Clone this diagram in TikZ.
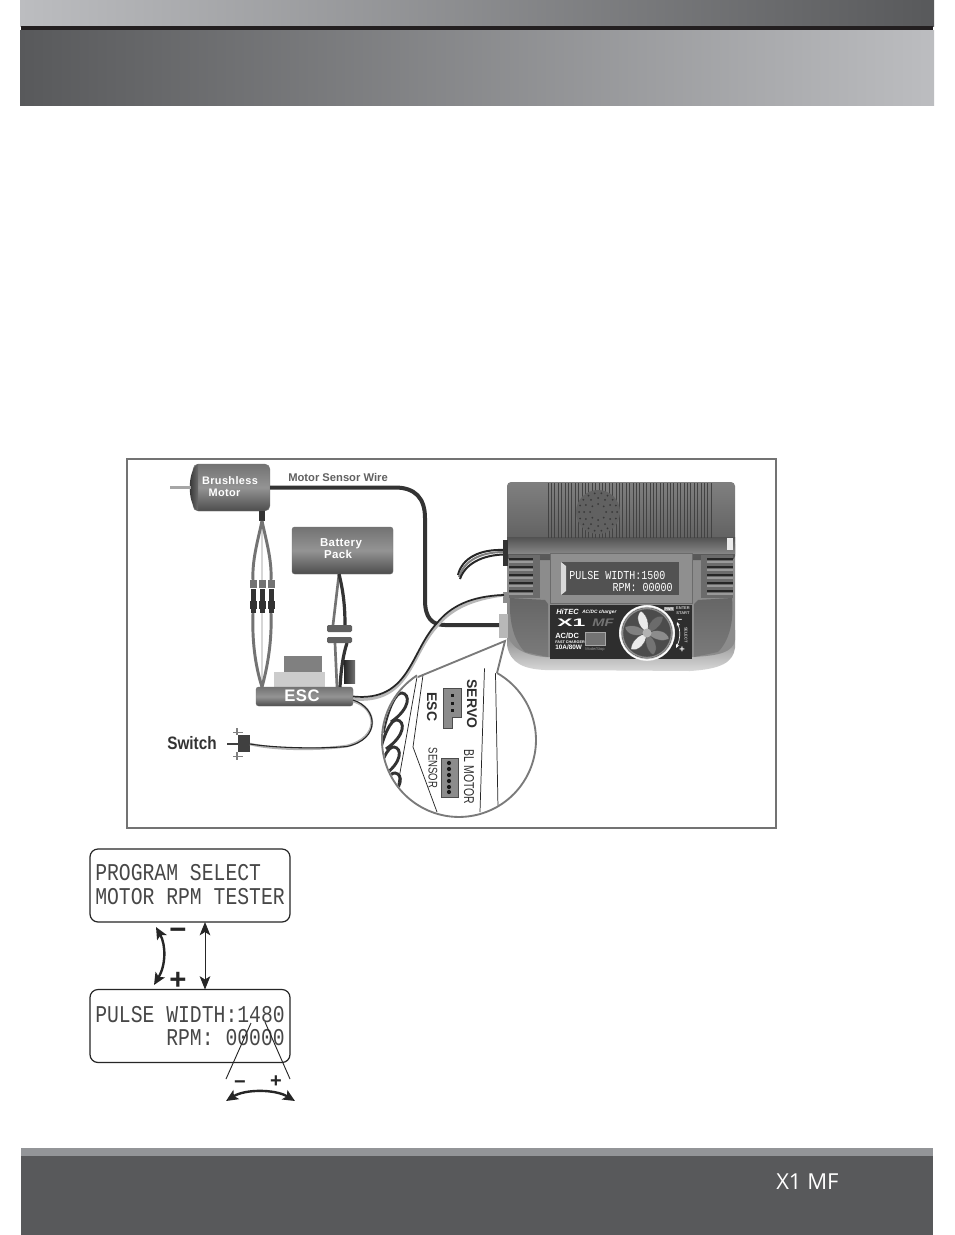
\documentclass[tikz,border=0pt]{standalone}
\usepackage{fontspec}
\setmainfont{Liberation Sans}
\newfontfamily\lcdfont{Liberation Mono}
\newfontfamily\footfont{Open Sans}
\newfontfamily\lblfont[LetterSpace=3.5]{Liberation Sans}
\usetikzlibrary{arrows.meta}
\definecolor{hdark}{HTML}{58595B}
\definecolor{hlight}{HTML}{BCBDC0}
\definecolor{hbar}{HTML}{231F20}
\definecolor{fstrip}{HTML}{939598}
\definecolor{frameg}{gray}{0.45}
\definecolor{wired}{gray}{0.2}
\definecolor{wirel}{gray}{0.84}
\newcommand{\lcdtext}[1]{\scalebox{1}[1.22]{#1}}
\tikzset{
 px/.style={x=0.75pt,y=-0.75pt},
 band/.style={inner sep=0,outer sep=0,anchor=north west},
 unit/.style={rounded corners=2pt,draw=black!55,line width=0.3pt,inner sep=0,outer sep=0,top color=black!55,bottom color=black!70,middle color=black!42},
 boxlabel/.style={text=white,font=\lblfont\bfseries\fontsize{8.2}{9}\selectfont,align=center,inner sep=0},
 lcdbox/.style={draw=black!85,line width=0.9pt,rounded corners=6pt,fill=white,minimum width=150pt,minimum height=54.75pt,inner sep=0,outer sep=0},
 lcdtxt/.style={font=\lcdfont\fontsize{14.8}{14.8}\selectfont,text=black!72,inner sep=0,anchor=west},
 minilcd/.style={font=\lcdfont\fontsize{7.5}{7.5}\selectfont,text=white,inner sep=0},
 zoomline/.style={draw=black!52,line width=1.4pt},
 fineline/.style={draw=black!85,line width=0.55pt},
 wirethin/.style={line width=1.3pt,draw=black!85},
 wirefat/.style={line width=3pt,draw=wired},
 phasegrey/.style={line width=2.2pt,draw=black!55},
 phaselight/.style={line width=2.2pt,draw=wirel},
 battgrey/.style={line width=2pt,draw=black!55},
 battdark/.style={line width=2.4pt,draw=wired},
 cable/.style={line width=1.5pt},
 tiptext/.style={text=black!82,rotate=-90,inner sep=0},
 dbl/.style={line width=0.7pt,draw=black!85,{Stealth[length=10pt,width=8pt,inset=2.5pt]}-{Stealth[length=10pt,width=8pt,inset=2.5pt]}},
 curvearrow/.style={line width=1.8pt,draw=black!85,{Stealth[length=9pt,width=8pt,inset=2pt]}-{Stealth[length=9pt,width=8pt,inset=2pt]}},
 sign/.style={inner sep=0,font=\bfseries\fontsize{22}{22}\selectfont,text=black!85},
 signsmall/.style={inner sep=0,font=\bfseries\fontsize{15}{15}\selectfont,text=black!85},
 tinytxt/.style={text=black!20,inner sep=0,font=\bfseries\fontsize{3}{3.4}\selectfont,align=center},
 bladestyle/.style={draw=black!70,line width=0.2pt}
}
\begin{document}
\begin{tikzpicture}[px]
\useasboundingbox (0,0) rectangle (954,1235);
\fill[white] (0,0) rectangle (954,1235);
% header
\node[band,minimum width=685.5pt,minimum height=19.5pt,left color=hlight,right color=hdark] (headtop) at (20,0) {};
\fill[hbar] (21,26) rectangle (933,30);
\node[band,minimum width=685.5pt,minimum height=56.25pt,left color=hdark,right color=hlight] (headmain) at (20,30) {};
% footer
\fill[fstrip] (21,1148) rectangle (933,1156);
\node[band,minimum width=684pt,minimum height=59.25pt,fill=hdark] (footer) at (21,1156) {};
\node[text=white,font=\footfont\fontsize{16.5}{16.5}\selectfont,inner sep=0,anchor=base west] (model) at (776,1189) {X1 MF};
% frame
\draw[frameg,line width=1.9pt,fill=white] (127,459) rectangle (776,828);

% ---------- callout ----------
\coordinate (cc) at (459,740);
\coordinate (wedgeA) at (418,677);
\coordinate (wedgeB) at (497,673);
\coordinate (wedgeTip) at (505,641);
\begin{scope}
\clip (cc) circle (76);
\foreach \dx/\dy in {0/0,-5/27,-8/54,-7/80}
 \draw[line width=2.2pt,draw=black!80,shift={(\dx,\dy)}] (383,733) .. controls (388,708) and (396,692) .. (402,693) .. controls (410,694) and (411,708) .. (391,722);
\draw[fineline] (417,677) -- (398,784);
\draw[fineline] (423,675) -- (413,747) -- (437,812);
\draw[fineline] (485,652) -- (480,812);
\draw[fineline] (495,647) -- (498,808);
\end{scope}
\draw[zoomline] (wedgeA) -- (wedgeTip) -- (wedgeB);
\draw[zoomline] (wedgeB) arc[start angle=-60.4,end angle=237,radius=77];
% connectors inside callout
\path[fill=black!45,draw=black!70,line width=0.5pt] (443,688) -- (461,688) -- (461,717) -- (452,717) -- (452,728) -- (443,728) -- cycle;
\foreach \yy in {695,703,710} \fill[black!90] (450.5,\yy-1.5) rectangle +(3,3);
\path[fill=black!45,draw=black!70,line width=0.5pt] (441,758) rectangle (458,797);
\foreach \yy in {763,769,775,781,787,792} \fill[black!90] (449,\yy) circle (2.1);
\node[tiptext,font=\bfseries\fontsize{10.5}{11}\selectfont] (servo) at (472,704) {SERVO};
\node[tiptext,font=\bfseries\fontsize{10.5}{11}\selectfont] (esclabel) at (432,707) {ESC};
\node[tiptext,font=\fontsize{10.7}{11}\selectfont] (blmotor) at (469,777) {\scalebox{.73}[1]{BL MOTOR}};
\node[tiptext,font=\fontsize{9.4}{10}\selectfont] (sensorlabel) at (433,768) {\scalebox{.76}[1]{SENSOR}};

% ---------- charger ----------
\coordinate (chgSensor) at (499,625);
\coordinate (chgEsc) at (504,595);
\coordinate (chgPower) at (504,550);
% cables behind the charger
\draw[cable,draw=black!85] (458,575) .. controls (462,558) and (480,549) .. (chgPower);
\draw[cable,draw=black!50] (459,577) .. controls (464,561) and (480,552) .. (504,552);
\draw[cable,draw=black!85] (460,579) .. controls (465,564) and (482,555) .. (504,554.5);
% body
\path[top color=black!50,bottom color=black!15] (507,630) -- (507,645) .. controls (510,664) and (525,669) .. (545,670) -- (690,671) .. controls (722,669) and (733,662) .. (735,648) -- (735,630) -- cycle;
\path[fill=black!45] (507,544) -- (735,544) -- (735,640) .. controls (733,652) and (720,656) .. (690,657) -- (545,657) .. controls (522,655) and (509,646) .. (507,632) -- cycle;
\path[top color=black!50,bottom color=black!66,rounded corners=3pt] (507,482) -- (735,482) -- (735,560) -- (507,560) -- cycle;
\path[top color=black!68,bottom color=black!48] (507,537) -- (735,537) -- (735,553) -- (507,553) -- cycle;
\path[top color=black!60,bottom color=black!52] (510,598) -- (545,600) -- (548,604) -- (548,657) -- (525,652) .. controls (513,640) and (509,620) .. (510,598) -- cycle;
\path[top color=black!60,bottom color=black!52] (732,598) -- (698,600) -- (694,604) -- (694,657) -- (718,652) .. controls (730,640) and (734,620) .. (732,598) -- cycle;
% top grille
\foreach \xx in {548,551.4,...,712} \draw[black!74,line width=0.6pt] (\xx,483) -- (\xx,538);
\fill[black!62] (598,512) circle (22);
\foreach \rr/\nn in {8/8,14/12,19/18} \foreach \ii in {1,...,\nn} \fill[black!78] (598,512) ++({360*\ii/\nn}:\rr) circle (1);
% highlight
\fill[black!8] (727,538) rectangle (733,550);
% side vents
\fill[black!58] (509,555) rectangle (540,598);
\fill[black!58] (701,555) rectangle (733,598);
\foreach \yy in {559,567,575,583,591} {
 \draw[black!85,line width=0.9pt] (509,\yy) -- (533,\yy);
 \draw[black!40,line width=0.9pt] (509,\yy+3) -- (533,\yy+3);
 \draw[black!85,line width=0.9pt] (707,\yy) -- (733,\yy);
 \draw[black!40,line width=0.9pt] (707,\yy+3) -- (733,\yy+3);
}
% LCD
\draw[fill=black!44,draw=black!58,line width=0.6pt] (550,553) rectangle (692,603);
\fill[black!68] (561,562) rectangle (679,595);
\fill[black!15] (561,562) -- (566,566) -- (566,591) -- (561,595) -- cycle;
\node[minilcd,anchor=west] (miniA) at (569,575.5) {\lcdtext{PULSE WIDTH:1500}};
\node[minilcd,anchor=east] (miniB) at (673,587) {\lcdtext{RPM: 00000}};
% panel
\fill[black!82] (550,605) rectangle (692,659);
\node[inner sep=0,text=white,font=\bfseries\itshape\fontsize{5.6}{5.6}\selectfont,anchor=west] (brand) at (556,612) {HiTEC};
\node[inner sep=0,text=white,font=\bfseries\itshape\fontsize{3.6}{4}\selectfont,anchor=west] (brandB) at (582,612) {AC/DC charger};
\node[inner sep=0,text=white,font=\bfseries\fontsize{8.2}{8.2}\selectfont,anchor=west] (xone) at (557,622.5) {\scalebox{2.1}[1]{X1}};
\node[inner sep=0,text=black!55,font=\bfseries\itshape\fontsize{8.2}{8.2}\selectfont,anchor=west] (mf) at (592,622.5) {\scalebox{1.35}[1]{MF}};
\node[inner sep=0,text=white,font=\bfseries\fontsize{5.6}{6}\selectfont,anchor=west] (acdc) at (555,636) {AC/DC};
\node[inner sep=0,text=white,font=\bfseries\fontsize{2.8}{3}\selectfont,anchor=west] (fast) at (555,642) {FAST CHARGER};
\node[inner sep=0,text=white,font=\bfseries\fontsize{4.8}{5}\selectfont,anchor=west] (watt) at (555,647.5) {10A/80W};
\draw[fill=black!55,draw=black!35,line width=0.3pt] (585,632) rectangle (605,645);
\node[inner sep=0,text=black!40,font=\fontsize{3}{3}\selectfont] (modestop) at (595,649.5) {Mode/Stop};
\node[tinytxt] (enter) at (683,610.5) {ENTER\\START};
\node[inner sep=0.6pt,fill=black!45,text=white,font=\bfseries\fontsize{2.8}{3}\selectfont] (pwr) at (669,609) {PWR};
\node[tinytxt,rotate=-90] (select) at (686,635) {SELECT};
\node[inner sep=0,text=white,font=\bfseries\fontsize{6}{6}\selectfont] (pminus) at (680,621) {−};
\node[inner sep=0,text=white,font=\bfseries\fontsize{7}{7}\selectfont] (pplus) at (682,650) {+};
\draw[white,line width=0.5pt,{Stealth[length=3pt,width=2.5pt]}-{Stealth[length=3pt,width=2.5pt]}] (677,622) .. controls (681,632) and (680,640) .. (676,648);
% fan
\coordinate (fan) at (647,633);
\fill[black!15] (fan) circle (28);
\fill[black!70] (fan) circle (25.5);
\draw[white,line width=0.9pt] (fan) circle (27);
\draw[black!45,line width=1pt] (fan) circle (24.5);
\foreach \aa/\col in {-150/black!8,-90/black!55,-30/black!45,30/black!58,90/black!8,150/black!50}
 \path[bladestyle,fill=\col,rotate around={\aa:(fan)}] (647,633) .. controls (653,624) and (664,621) .. (669,627) .. controls (665,633) and (656,636) .. (647,633) -- cycle;
\fill[black!30] (fan) circle (4.5);
% charger ports
\fill[wired] (503,540) rectangle (508,566);
\fill[black!45] (503,592) rectangle (508,603);
\fill[black!28] (499,614) rectangle (508,638);

% ---------- wired units ----------
\node[unit,rounded corners=4pt,minimum width=57.75pt,minimum height=35.25pt] (motor) at (231.5,487.5) {};
\path[left color=black!85,right color=black!58] (198,464) .. controls (187,470) and (187,505) .. (198,511) -- cycle;
\fill[black!35] (170,486) rectangle (191,489);
\node[boxlabel] (motorA) at (230,481) {Brushless};
\node[boxlabel] (motorB) at (224.5,493) {Motor};
\node[unit,minimum width=75.75pt,minimum height=35.25pt] (battery) at (342.5,550.5) {};
\node[boxlabel,font=\lblfont\bfseries\fontsize{8.6}{9}\selectfont] (batteryL) at (341,549) {Battery\\Pack\hspace*{4.5pt}};
\fill[black!50] (284,656) rectangle (322,672);
\fill[black!20] (274,672) rectangle (325,687);
\node[unit,minimum width=72.75pt,minimum height=14.25pt] (esc) at (304.5,696.5) {};
\node[boxlabel,font=\lblfont\bfseries\fontsize{12.5}{13}\selectfont] (escL) at (302,695.5) {ESC};
\node[text=black!62,font=\bfseries\fontsize{8.4}{9}\selectfont,inner sep=0] (sensorwire) at (338,477) {Motor Sensor Wire};

% sensor wire
\draw[wirefat] (motor.east) -- (395,487.5) .. controls (415,487.5) and (425,498) .. (425,518) -- (425,600) .. controls (425,618) and (432,625) .. (445,625) -- (chgSensor);

% ESC to charger
\draw[line width=2.2pt,draw=black!28] (353,699) .. controls (410,704) and (410,655) .. (437,626) .. controls (450,610) and (470,599) .. (chgEsc);
\draw[wirethin] (esc.east) .. controls (410,702) and (410,652) .. (437,623) .. controls (450,607) and (470,596) .. (chgEsc);

% motor phase wires
\fill[wired] (259,511) rectangle (265,521);
\coordinate (mtop) at (262,521);
\coordinate (ebot) at (262,687);
\draw[phaselight] (mtop) -- (262,580);
\draw[phasegrey] (mtop) .. controls (258,540) and (252,560) .. (253,580);
\draw[phasegrey] (mtop) .. controls (266,540) and (272,560) .. (271,580);
\draw[phaselight] (262,613) -- (ebot);
\draw[phasegrey] (253,613) .. controls (252,640) and (255,665) .. (ebot);
\draw[phasegrey] (271,613) .. controls (272,640) and (268,665) .. (ebot);
\foreach \xx in {253,262,271} {
 \fill[black!55] (\xx-3.5,580) rectangle (\xx+3.5,588);
 \fill[wired] (\xx-2.5,589) rectangle (\xx+2.5,613);
 \fill[wired] (\xx-3.5,601) rectangle (\xx+3.5,609);
}

% battery wires
\coordinate (batOut) at (339,574);
\draw[battgrey] (batOut) -- (333,625);
\draw[battdark] (batOut) .. controls (343,590) and (345,605) .. (345,625);
\draw[battgrey] (335,643) -- (337,687);
\draw[battdark] (347,643) .. controls (343,655) and (341,670) .. (340,687);
\fill[black!62,rounded corners=1pt] (327,625) rectangle (352,632);
\fill[black!62,rounded corners=1pt] (327,637) rectangle (352,643);
\path[left color=black!85,right color=black!55] (344,660) rectangle (355,683);

% switch
\fill[black!75] (238,735) rectangle (250,752);
\draw[black!75,line width=1.3pt] (227,744) -- (238,744);
\draw[black!50,line width=1pt] (237,728) -- (237,735) (237,752) -- (237,760);
\draw[black!50,line width=0.7pt] (233,732) -- (243,732) (233,756) -- (243,756);
\node[inner sep=0,text=black!80,font=\bfseries\fontsize{13.5}{14}\selectfont] (switch) at (192,743) {\scalebox{.85}[1]{Switch}};
\coordinate (swOut) at (250,744);
\draw[line width=2pt,draw=black!30] (swOut) .. controls (275,750) and (320,750) .. (347,746) .. controls (380,738) and (378,708) .. (353,701);
\draw[line width=0.8pt,draw=black!85] (swOut) .. controls (275,748) and (320,749) .. (347,746.5) .. controls (381,739) and (378,708) .. (353,700);

% ---------- LCD screens ----------
\node[lcdbox] (prog) at (190,885.5) {};
\node[lcdbox] (pulse) at (190,1026) {};
\node[lcdtxt] (progA) at (95,873) {\lcdtext{PROGRAM SELECT}};
\node[lcdtxt] (progB) at (95,897) {\lcdtext{MOTOR RPM TESTER}};
\node[lcdtxt] (pulseA) at (95,1015) {\lcdtext{PULSE WIDTH:1480}};
\node[lcdtxt,anchor=east] (pulseB) at (285,1038) {\lcdtext{RPM: 00000}};
\draw[dbl] (prog.south -| 205,0) -- (pulse.north -| 205,0);
\coordinate (cvTop) at (156,927);
\coordinate (cvBot) at (154,985);
\draw[curvearrow] (cvTop) .. controls (166,945) and (166,965) .. (cvBot);
\node[sign] (minusA) at (178,934) {−};
\node[sign] (plusA) at (178,981) {+};
\coordinate (digitL) at (251,1023);
\coordinate (digitR) at (265,1022);
\coordinate (legL) at (226,1079);
\coordinate (legR) at (290,1079);
\draw[line width=0.7pt,draw=black!85] (digitL) -- (legL) (digitR) -- (legR);
\node[signsmall] (minusB) at (240,1085) {−};
\node[signsmall] (plusB) at (276,1082) {+};
\coordinate (cvL) at (226,1101);
\coordinate (cvR) at (295,1101);
\draw[curvearrow] (cvL) .. controls (245,1089) and (275,1089) .. (cvR);
\end{tikzpicture}
\end{document}
